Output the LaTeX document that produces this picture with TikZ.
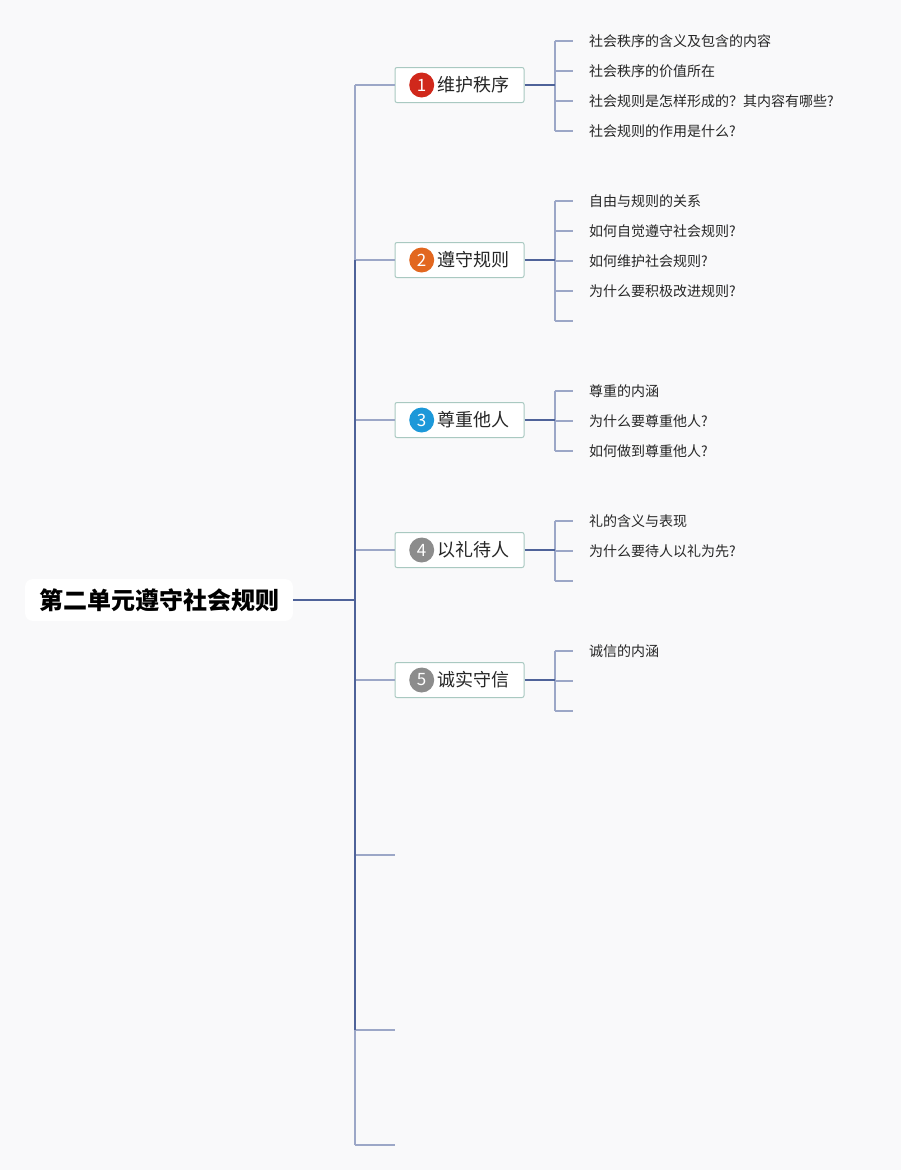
\documentclass[tikz,border=0pt]{standalone}
\usepackage{fontspec}
\setmainfont{Noto Sans CJK SC}
\usetikzlibrary{positioning}
\definecolor{bgcol}{HTML}{F9F9FA}
\definecolor{darkline}{HTML}{4F6399}
\definecolor{lightline}{HTML}{9CA7C7}
\definecolor{boxline}{HTML}{A9C9C1}
\definecolor{badgered}{HTML}{D0281B}
\definecolor{badgeorange}{HTML}{E2671F}
\definecolor{badgeblue}{HTML}{1C98D9}
\definecolor{badgegray}{HTML}{8C8C8C}
\tikzset{
  root/.style={fill=white, rounded corners=8pt, minimum width=268pt, minimum height=42pt,
    inner sep=0pt, font=\fontsize{24}{24}\selectfont\bfseries},
  topic/.style={draw=boxline, line width=1pt, fill=white, rounded corners=2pt,
    minimum width=129pt, minimum height=35pt, inner sep=0pt, text=black!85,
    font=\fontsize{18}{18}\selectfont},
  badge/.style={circle, fill=#1, text=white, minimum size=25pt, inner sep=0pt,
    font=\fontsize{17}{17}\selectfont},
  leaf/.style={anchor=west, inner xsep=16pt, inner ysep=0pt, text=black!85,
    font=\fontsize{14}{14}\selectfont},
  lt/.style={lightline, line width=1.3pt},
  dk/.style={darkline, line width=1.5pt}
}
\begin{document}
\begin{tikzpicture}[x=1pt,y=-1pt]
  \fill[bgcol] (0,0) rectangle (901,1170);
  \node[root] (root) at (159,600) {第二单元遵守社会规则};
  \coordinate (j) at (355,600);
  \draw[dk] (root.east) -- (j);
  % topics with their sub items
  \foreach \n/\y/\col/\txt/\N/\kids in {
    1/85/badgered/维护秩序/4/{社会秩序的含义及包含的内容,社会秩序的价值所在,社会规则是怎样形成的？其内容有哪些?,社会规则的作用是什么?},
    2/260/badgeorange/遵守规则/5/{自由与规则的关系,如何自觉遵守社会规则?,如何维护社会规则?,为什么要积极改进规则?,{}},
    3/420/badgeblue/尊重他人/3/{尊重的内涵,为什么要尊重他人?,如何做到尊重他人?},
    4/550/badgegray/以礼待人/3/{礼的含义与表现,为什么要待人以礼为先?,{}},
    5/680/badgegray/诚实守信/3/{诚信的内涵,{},{}}}{
    \node[topic] (t\n) at (459.5,\y) {\hspace*{27pt}\txt};
    \node[badge=\col, right=14.5pt of t\n.west] (c\n) {\n};
    \coordinate (b\n) at (555,\y);
    \foreach \k [count=\i] in \kids {
      \node[leaf] (l\n-\i) at (573,{\y+1+30*(\i-(\N+1)/2)}) {\k};
      \draw[lt] (b\n |- l\n-\i.west) -- (l\n-\i.west);
    }
    \draw[lt] (b\n |- l\n-1.west) -- (b\n |- l\n-\N.west);
    \draw[dk] (t\n.east) -- (b\n);
    \draw[lt] (j |- t\n) -- (t\n.west);
  }
  % empty branches
  \foreach \e/\y in {1/855,2/1030,3/1145}{
    \coordinate (e\e) at (395,\y);
    \draw[lt] (j |- e\e) -- (e\e);
  }
  \draw[lt] (j |- t1) -- (j |- t2);
  \draw[dk] (j |- t2) -- (j |- e2);
  \draw[lt] (j |- e2) -- (j |- e3);
\end{tikzpicture}
\end{document}
